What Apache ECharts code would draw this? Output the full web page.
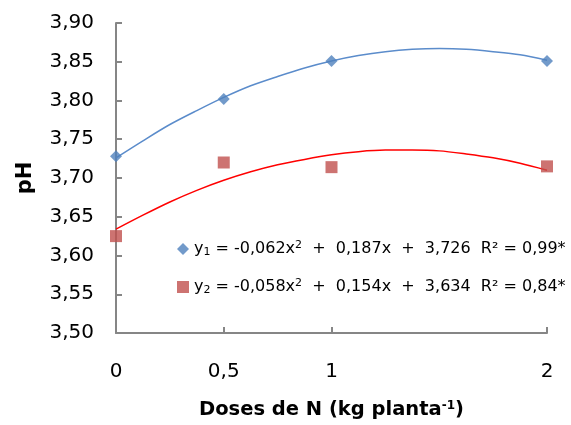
<!DOCTYPE html>
<html><head><meta charset="utf-8">
<script src="https://cdn.jsdelivr.net/npm/echarts@6/dist/echarts.min.js"></script>
<style>html,body{margin:0;padding:0;background:#fff}#c{width:571px;height:425px}</style>
</head><body><div id="c"></div>
<script>
// observed data
const doses = [0, 0.5, 1, 2];
const ph1 = [3.728, 3.802, 3.851, 3.851];
const ph2 = [3.625, 3.720, 3.714, 3.715];
// trend curves
const trendX = [0, 0.125, 0.25, 0.375, 0.5, 0.625, 0.75, 0.875, 1, 1.125, 1.25, 1.375, 1.5, 1.625, 1.75, 1.875, 2];
const trend1 = [3.726, 3.748, 3.769, 3.787, 3.804, 3.819, 3.831, 3.842, 3.851, 3.858, 3.863, 3.866, 3.867, 3.866, 3.863, 3.859, 3.852];
const trend2 = [3.634, 3.652, 3.669, 3.684, 3.697, 3.708, 3.717, 3.724, 3.730, 3.734, 3.736, 3.736, 3.735, 3.731, 3.726, 3.719, 3.710];
const xTicks = [0, 0.5, 1, 2];
const yTicks = [3.50, 3.55, 3.60, 3.65, 3.70, 3.75, 3.80, 3.85, 3.90];
const eq1 = '{n|y}{sub|1}{n| = -0,062x}{sup|2}{n|  +  0,187x  +  3,726  R² = 0,99*}';
const eq2 = '{n|y}{sub|2}{n| = -0,058x}{sup|2}{n|  +  0,154x  +  3,634  R² = 0,84*}';

const zip = (xs, ys) => xs.map((x, i) => [x, ys[i]]);
const axisCol = '#868686';
const font = 'DejaVu Sans, sans-serif';

const chart = echarts.init(document.getElementById('c'), null, {renderer: 'canvas'});
chart.setOption({
  animation: false,
  backgroundColor: '#fff',
  grid: {left: 116, right: 24, top: 23, bottom: 91},
  legend: {
    left: 172, top: 235, orient: 'vertical', itemGap: 20,
    itemWidth: 12, itemHeight: 12,
    data: ['y1', 'y2'],
    formatter: n => n === 'y1' ? eq1 : eq2,
    textStyle: {
      fontFamily: font, color: '#000',
      rich: {
        n: {fontSize: 16, fontFamily: font, color: '#000'},
        sub: {fontSize: 11, fontFamily: font, color: '#000', verticalAlign: 'bottom', padding: [7, 0, 0, 0]},
        sup: {fontSize: 11, fontFamily: font, color: '#000', verticalAlign: 'top', padding: [0, 0, 7, 0]}
      }
    }
  },
  xAxis: {
    type: 'value', min: 0, max: 2, interval: 0.5,
    name: 'Doses de N (kg planta{s|-1})', nameLocation: 'middle', nameGap: 67,
    nameTextStyle: {fontFamily: font, fontSize: 19.5, fontWeight: 'bold', color: '#000',
      rich: {s: {fontSize: 12, fontWeight: 'bold', fontFamily: font, color: '#000', verticalAlign: 'top', padding: [0, 0, 8, 0]}}},
    axisLine: {show: true, lineStyle: {color: axisCol, width: 2}},
    axisTick: {show: true, inside: true, length: 6, customValues: xTicks, lineStyle: {color: axisCol, width: 2}},
    axisLabel: {customValues: xTicks, margin: 29, fontFamily: font, fontSize: 20, color: '#000',
      formatter: v => String(v).replace('.', ',')},
    splitLine: {show: false}
  },
  yAxis: {
    type: 'value', min: 3.5, max: 3.9, interval: 0.05,
    name: 'pH', nameLocation: 'middle', nameGap: 80, nameRotate: 90,
    nameTextStyle: {fontFamily: font, fontSize: 21, fontWeight: 'bold', color: '#000'},
    axisLine: {show: true, lineStyle: {color: axisCol, width: 2}},
    axisTick: {show: true, inside: true, length: 6, lineStyle: {color: axisCol, width: 2}},
    axisLabel: {customValues: yTicks, margin: 22, fontFamily: font, fontSize: 20, color: '#000',
      formatter: v => v.toFixed(2).replace('.', ',')},
    splitLine: {show: false}
  },
  series: [
    {name: 'trend1', type: 'line', data: zip(trendX, trend1), smooth: 0.3, showSymbol: false,
      lineStyle: {color: '#5B8CCB', width: 1.5}, z: 2},
    {name: 'trend2', type: 'line', data: zip(trendX, trend2), smooth: 0.3, showSymbol: false,
      lineStyle: {color: '#FF0000', width: 1.5}, z: 2},
    {name: 'y1', type: 'scatter', data: zip(doses, ph1), symbol: 'diamond', symbolSize: 12,
      itemStyle: {color: '#4F81BD'}, z: 3},
    {name: 'y2', type: 'scatter', data: zip(doses, ph2), symbol: 'rect', symbolSize: 12,
      itemStyle: {color: '#C0504D'}, z: 3}
  ]
});
</script></body></html>
